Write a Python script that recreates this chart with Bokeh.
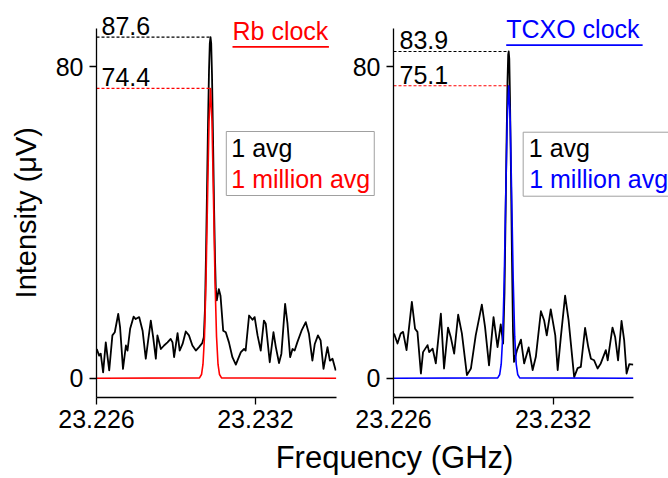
import math
from bokeh.plotting import figure
from bokeh.layouts import row
from bokeh.models import Range1d, FixedTicker, PrintfTickFormatter, Label
from bokeh.embed import file_html
from bokeh.resources import INLINE

# ---------------- data ----------------
x_ticks = [23.226, 23.232]
y_ticks = [0, 80]

# Rb clock panel: 1 avg (black)
rb_1avg_f = [23.22601, 23.22610, 23.22616, 23.22625, 23.22635, 23.22648, 23.22660, 23.22669,
             23.22682, 23.22689, 23.22700, 23.22711, 23.22717, 23.22727, 23.22740, 23.22748,
             23.22761, 23.22774, 23.22786, 23.22795, 23.22805, 23.22814, 23.22824, 23.22830,
             23.22843, 23.22855, 23.22868, 23.22880, 23.22887, 23.22893, 23.22906, 23.22914,
             23.22925, 23.22937, 23.22949, 23.22962, 23.22975, 23.22987, 23.229990, 23.230051,
             23.230096, 23.230134, 23.230171, 23.230209, 23.230247, 23.230277, 23.230304,
             23.230330, 23.230360, 23.230398, 23.230436, 23.230473, 23.230504, 23.230541,
             23.230617, 23.230681, 23.230783, 23.23088, 23.23100, 23.23113, 23.23126, 23.23132,
             23.23145, 23.23157, 23.23163, 23.23176, 23.23189, 23.23197, 23.23208, 23.23220,
             23.23232, 23.23239, 23.23254, 23.23268, 23.23277, 23.23289, 23.23298, 23.23312,
             23.23321, 23.23331, 23.23340, 23.23348, 23.23358, 23.23374, 23.23390, 23.23402,
             23.23415, 23.23424, 23.23436, 23.23446, 23.23457, 23.23472, 23.23481, 23.23491,
             23.23503]
rb_1avg_v = [7.5, 5.8, 6.3, 1.5, 9.2, 2.0, 11.0, 11.8,
             16.5, 13.1, 2.4, 8.4, 7.1, 12.7, 15.8, 15.2,
             15.7, 12.2, 5.0, 9.7, 14.8, 10.5, 5.0, 11.0,
             7.5, 8.4, 9.2, 10.1, 9.2, 5.4, 11.6, 7.1,
             8.8, 12.0, 11.0, 8.4, 7.1, 8.0, 9.0, 10.5,
             18.0, 32.0, 48.0, 65.0, 79.0, 86.0, 87.6,
             86.0, 78.0, 62.0, 45.0, 31.0, 23.0, 20.0,
             22.9, 21.2, 12.2, 11.8, 9.2, 5.4, 3.5, 4.5,
             6.7, 7.5, 7.1, 16.1, 15.0, 15.7, 11.0, 7.1,
             14.8, 14.0, 4.1, 11.8, 8.0, 3.9, 6.3, 19.1,
             14.0, 5.4, 7.5, 7.1, 9.2, 12.2, 14.4, 11.4,
             4.5, 8.8, 11.0, 9.7, 2.4, 8.0, 4.5, 5.0,
             2.0]

# Rb clock panel: 1 million avg (red)
rb_1m_f = [23.226, 23.229889, 23.229964, 23.230020, 23.230077, 23.230134, 23.230191, 23.230248,
           23.230304, 23.230360, 23.230417, 23.230474, 23.230531, 23.230587, 23.230644, 23.230719,
           23.23505]
rb_1m_v = [0.0, 0.1, 0.95, 3.6, 10.7, 25.1, 45.9, 65.9,
           74.4, 65.9, 45.9, 25.1, 10.7, 3.6, 0.95, 0.1,
           0.0]

# TCXO clock panel: 1 avg (black)
tc_1avg_f = [23.22602, 23.22615, 23.22627, 23.22636, 23.22649, 23.22669, 23.22681, 23.22690,
             23.22703, 23.22711, 23.22728, 23.22734, 23.22747, 23.22759, 23.22778, 23.22790,
             23.22805, 23.22815, 23.22828, 23.22843, 23.22857, 23.22876, 23.22891, 23.22909,
             23.22932, 23.22944, 23.22959, 23.22976, 23.22991, 23.23003, 23.23012, 23.230172,
             23.230209, 23.230247, 23.230284, 23.230310, 23.230330, 23.230352, 23.230378,
             23.230416, 23.230454, 23.230491, 23.23053, 23.23064, 23.23079, 23.23091, 23.23108,
             23.23123, 23.23135, 23.23154, 23.23166, 23.23176, 23.23191, 23.23208, 23.23217,
             23.23229, 23.23245, 23.23258, 23.23279, 23.23292, 23.23304, 23.23320, 23.23332,
             23.23342, 23.23354, 23.23367, 23.23379, 23.23398, 23.23405, 23.23423, 23.23433,
             23.23444, 23.23457, 23.23467, 23.23476, 23.23486, 23.23501]
tc_1avg_v = [11.5, 8.9, 11.5, 11.9, 7.2, 19.6, 12.7, 11.9,
             1.2, 6.7, 8.5, 6.7, 7.6, 3.8, 16.6, 2.5,
             13.0, 10.6, 6.3, 16.3, 11.5, 0.8, 2.5, 11.0,
             18.9, 13.2, 3.3, 15.7, 8.0, 13.8, 8.9, 22.0,
             40.0, 60.0, 76.0, 83.0, 83.9, 82.0, 72.0,
             52.0, 30.0, 12.0, 4.2, 7.2, 9.9, 3.8, 7.9,
             2.1, 5.5, 17.2, 14.9, 11.0, 17.7, 11.0, 2.1,
             10.6, 21.2, 14.9, 0.3, 2.6, 2.9, 12.9, 8.0,
             5.0, 4.6, 2.5, 3.8, 7.2, 4.6, 13.0, 10.6,
             4.6, 14.7, 9.7, 1.2, 3.6, 3.5]

# TCXO clock panel: 1 million avg (blue)
tc_1m_f = [23.226, 23.229917, 23.229992, 23.230048, 23.230105, 23.230161, 23.230217, 23.230274,
           23.230330, 23.230386, 23.230443, 23.230499, 23.230555, 23.230612, 23.230668, 23.230743,
           23.23501]
tc_1m_v = [0.0, 0.1, 0.96, 3.6, 10.8, 25.3, 46.3, 66.5,
           75.1, 66.5, 46.3, 25.3, 10.8, 3.6, 0.96, 0.1,
           0.0]

panel_titles = ["Rb clock", "TCXO clock"]
legend_labels = ["1 avg", "1 million avg"]
x_label = "Frequency (GHz)"
y_label = "Intensity (\u03bcV)"

# ---------------- layout / styling ----------------
FONT = "Liberation Sans"
RED = "#ff0000"
BLUE = "#0000ff"
GRAY = "#a0a0a0"
W, H = 668, 478
TOP, BOTTOM = 28, 81          # borders above / below the panel frames
FRAME_W = 240
PX_L, PX_R = 96, 393          # left edges of the two panel frames
XR_L = (23.226, 23.23506)
XR_R = (23.226, 23.23502)
YR = (-4.95, 89.8)

kx = FRAME_W / (XR_L[1] - XR_L[0])
ky = (H - TOP - BOTTOM) / (YR[1] - YR[0])


def r2b(f):
    """right-panel frequency -> coordinate of the background (annotation) layer"""
    px = PX_R + (f - XR_R[0]) * FRAME_W / (XR_R[1] - XR_R[0])
    return XR_L[0] + (px - PX_L) / kx


# background layer: whole window is its frame, holds all texts
base = figure(width=W, height=H, output_backend="svg", toolbar_location=None,
              x_range=Range1d(XR_L[0] - PX_L / kx, XR_L[0] + (W - PX_L) / kx),
              y_range=Range1d(YR[0] - BOTTOM / ky, YR[1] + TOP / ky),
              x_axis_type=None, y_axis_type=None, frame_align=False,
              min_border_left=0, min_border_right=0, min_border_top=0, min_border_bottom=0)
base.outline_line_color = None
base.grid.visible = False


def make_fig(width, x_range, min_left, min_right, shift):
    p = figure(width=width, height=H, output_backend="svg", toolbar_location=None,
               x_range=Range1d(*x_range), y_range=Range1d(*YR), frame_align=False,
               min_border_left=min_left, min_border_right=min_right,
               min_border_top=TOP, min_border_bottom=BOTTOM)
    p.margin = (0, 0, 0, -shift)
    p.outline_line_color = None
    p.grid.visible = False
    p.background_fill_color = None
    p.border_fill_color = None
    for ax in (p.xaxis, p.yaxis):
        ax.axis_line_color = "black"
        ax.axis_line_width = 1.3
        ax.major_tick_line_color = "black"
        ax.major_tick_line_width = 1.3
        ax.major_tick_out = 7
        ax.major_tick_in = 0
        ax.minor_tick_line_color = None
        ax.major_label_text_font = FONT
        ax.major_label_text_font_size = "25px"
        ax.major_label_text_color = "black"
    p.xaxis.ticker = FixedTicker(ticks=x_ticks)
    p.xaxis.formatter = PrintfTickFormatter(format="%.3f")
    p.xaxis.major_label_standoff = 5
    p.yaxis.ticker = FixedTicker(ticks=y_ticks)
    p.yaxis.major_label_standoff = 6
    return p


def txt(x, y, text, color="black", size="25px", **kw):
    base.add_layout(Label(x=x, y=y, text=text, text_font=FONT, text_font_size=size,
                          text_color=color, **kw))


def add_panel(p, conv, f1, v1, f2, v2, color2, title, title_x, title_y, ul_y, ul_pad,
              lab_dx, leg_box, leg_pad, leg_black):
    p.line(f1, v1, line_color="black", line_width=1.8, line_join="round")
    p.line(f2, v2, line_color=color2, line_width=1.6, line_join="round")
    x0 = p.x_range.start
    for f, v, c in ((f1, v1, "black"), (f2, v2, RED)):
        i = max(range(len(v)), key=lambda k: v[k])
        p.line([x0, f[i]], [v[i], v[i]], line_color=c, line_width=1.2, line_dash="3 2")
        txt(conv(x0), v[i], f"{v[i]:.1f}", x_offset=lab_dx, y_offset=2,
            text_align="left", text_baseline="bottom")
    # panel title, underlined
    txt(conv(title_x), title_y, title, color2, text_align="left", text_baseline="bottom")
    txt(conv(title_x), ul_y, "\u00a0", color2, size="1.5px", text_align="left",
        text_baseline="top", background_fill_color=color2,
        padding=dict(left=ul_pad, right=ul_pad, top=0, bottom=0))
    # legend: coloured texts in a gray box
    txt(conv(leg_box[0]), leg_box[1], legend_labels[1], color2, text_align="left",
        text_baseline="top", border_line_color=GRAY, border_line_width=1,
        background_fill_color="white", padding=leg_pad)
    txt(conv(leg_black[0]), leg_black[1], legend_labels[0], "black", text_align="left",
        text_baseline="top")


p1 = make_fig(W, XR_L, PX_L, W - PX_L - FRAME_W, W)
add_panel(p1, lambda f: f, rb_1avg_f, rb_1avg_v, rb_1m_f, rb_1m_v, RED, panel_titles[0],
          23.231134, 85.5, 85.3, 48,
          5, (23.23090, 63.35), dict(left=5, right=4, top=33, bottom=3), (23.231090, 62.65))

wr = W - (PX_R - 48)
p2 = make_fig(wr, XR_R, 48, W - PX_R - FRAME_W, wr)
add_panel(p2, r2b, tc_1avg_f, tc_1avg_v, tc_1m_f, tc_1m_v, BLUE, panel_titles[1],
          23.230236, 86.0, 85.75, 68,
          6, (23.230874, 63.17), dict(left=6, right=4, top=33, bottom=3), (23.231085, 62.8))

# shared axis titles
txt(23.23725, -24.75, x_label, size="31px", text_align="center", text_baseline="bottom")
txt(23.223346, 42.5, y_label, size="29px", angle=math.pi / 2,
    text_align="center", text_baseline="middle")

layout = row(base, p1, p2)
open("out.html", "w").write(file_html(layout, INLINE))
